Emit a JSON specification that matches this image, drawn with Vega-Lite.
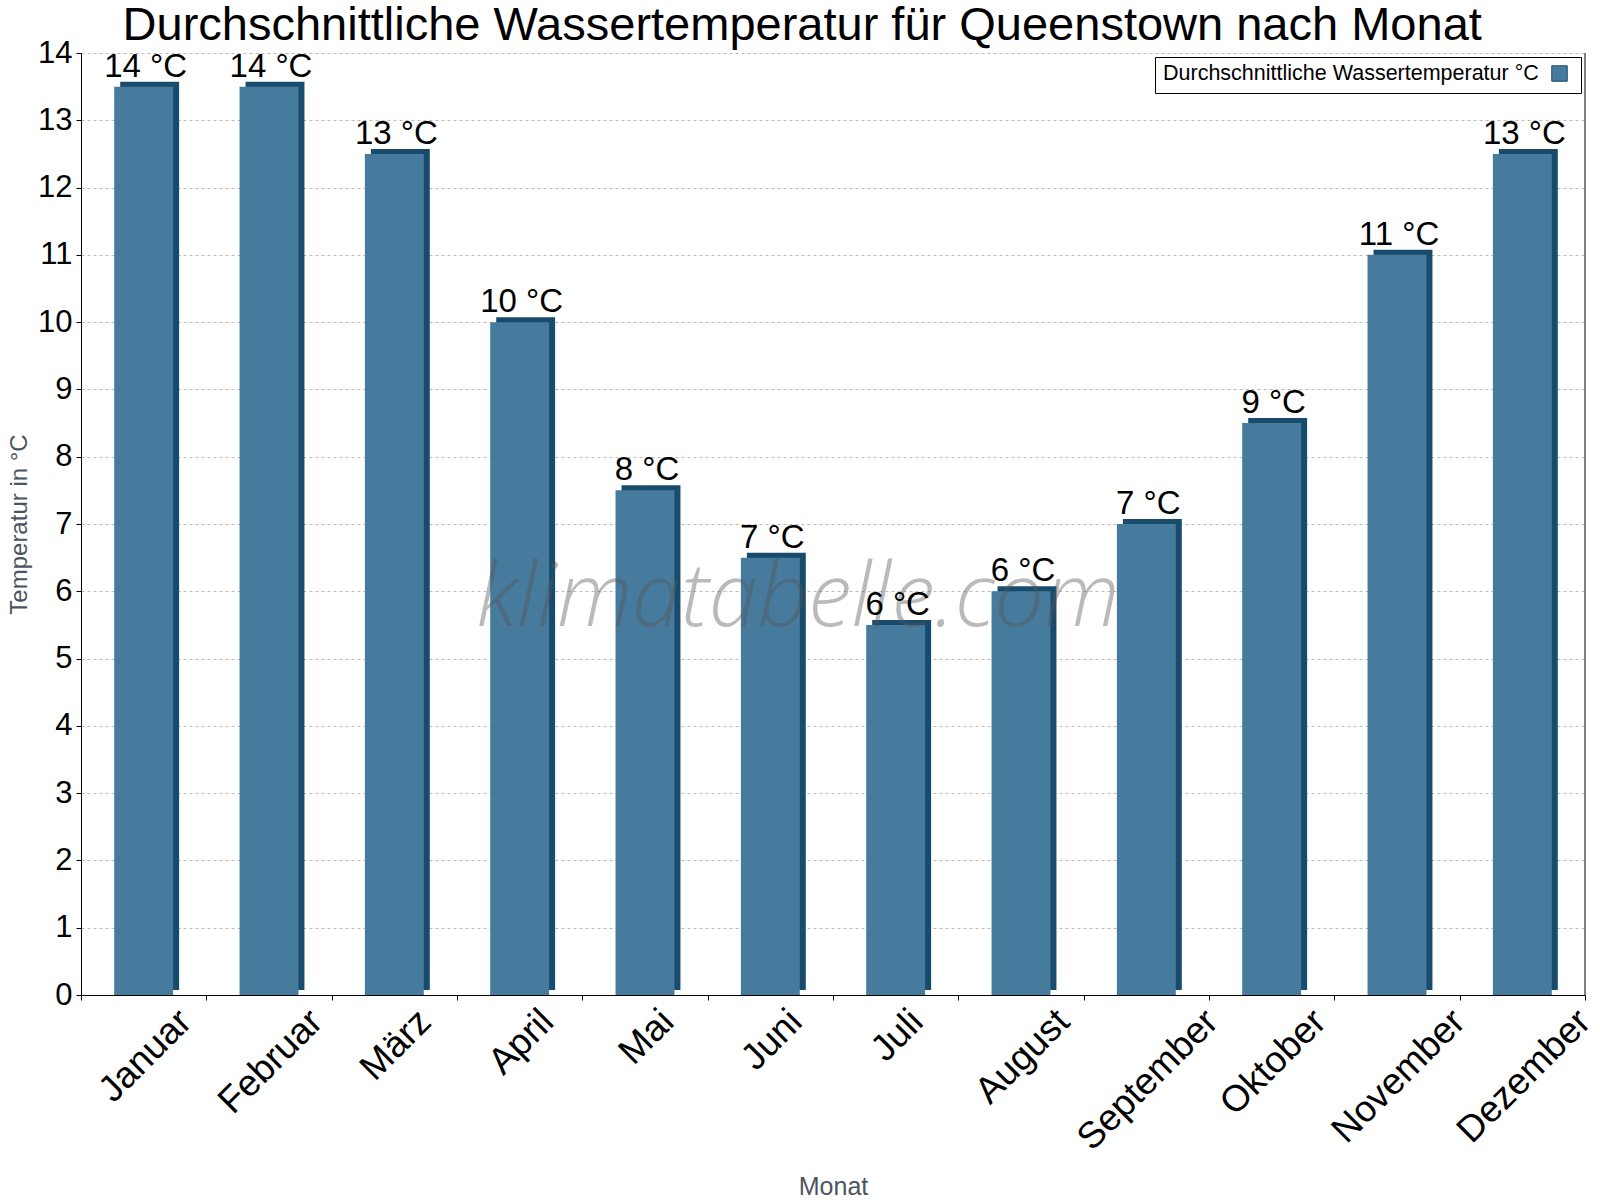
{
  "$schema": "https://vega.github.io/schema/vega-lite/v6.json",
  "description": "Durchschnittliche Wassertemperatur Queenstown, Balken mit 3D-Kante.",
  "width": 1504,
  "height": 942,
  "autosize": {"type": "none"},
  "padding": {"left": 81, "top": 53, "right": 15, "bottom": 205},
  "background": "white",
  "title": {
    "text": "Durchschnittliche Wassertemperatur für Queenstown nach Monat",
    "fontSize": 47,
    "fontWeight": "normal",
    "color": "black",
    "anchor": "middle",
    "frame": "bounds",
    "offset": -13
  },
  "config": {
    "font": "Liberation Sans",
    "view": {"stroke": null}
  },
  "datasets": {
    "monate": [
      {"Monat": "Januar", "Temperatur": 13.5, "Beschriftung": "14 °C"},
      {"Monat": "Februar", "Temperatur": 13.5, "Beschriftung": "14 °C"},
      {"Monat": "März", "Temperatur": 12.5, "Beschriftung": "13 °C"},
      {"Monat": "April", "Temperatur": 10, "Beschriftung": "10 °C"},
      {"Monat": "Mai", "Temperatur": 7.5, "Beschriftung": "8 °C"},
      {"Monat": "Juni", "Temperatur": 6.5, "Beschriftung": "7 °C"},
      {"Monat": "Juli", "Temperatur": 5.5, "Beschriftung": "6 °C"},
      {"Monat": "August", "Temperatur": 6, "Beschriftung": "6 °C"},
      {"Monat": "September", "Temperatur": 7, "Beschriftung": "7 °C"},
      {"Monat": "Oktober", "Temperatur": 8.5, "Beschriftung": "9 °C"},
      {"Monat": "November", "Temperatur": 11, "Beschriftung": "11 °C"},
      {"Monat": "Dezember", "Temperatur": 12.5, "Beschriftung": "13 °C"}
    ],
    "wasserzeichen": [
      {"text": "klimatabelle.com", "Temperatur": 5.48}
    ],
    "rahmen": [
      {"Monat": "Dezember", "Temperatur": 0, "oben": 14}
    ]
  },
  "layer": [
    {
      "data": {"name": "monate"},
      "mark": {"type": "bar", "color": "#184b6c", "xOffset": 6, "yOffset": -5, "width": {"band": 0.47}},
      "encoding": {
        "x": {
          "field": "Monat",
          "type": "nominal",
          "sort": null,
          "scale": {"paddingInner": 0, "paddingOuter": 0},
          "axis": {
            "title": "Monat",
            "titleFontSize": 25,
            "titleFontWeight": "normal",
            "titleColor": "#4a5561",
            "titlePadding": 18,
            "labelAngle": -45,
            "labelAlign": "right",
            "labelBaseline": "top",
            "labelFontSize": 37,
            "labelColor": "black",
            "labelPadding": 3,
            "labelOverlap": false,
            "labelLimit": 400,
            "labelBound": false,
            "tickBand": "extent",
            "tickSize": 5,
            "tickColor": "black",
            "domainColor": "black",
            "grid": false,
            "encoding": {
              "labels": {
                "dx": {"value": {"expr": "({'Januar':20.3,'Februar':24.4,'März':12.5,'April':10.5,'Mai':6.9,'Juni':9,'Juli':5.9,'August':20.8,'September':37.2,'Oktober':24.9,'November':34.7,'Dezember':34.7})[datum.value]"}},
                "dy": {"value": {"expr": "({'Januar':20.3,'Februar':24.4,'März':12.5,'April':10.5,'Mai':6.9,'Juni':9,'Juli':5.9,'August':20.8,'September':37.2,'Oktober':24.9,'November':34.7,'Dezember':34.7})[datum.value]"}}
              }
            }
          }
        },
        "y": {
          "field": "Temperatur",
          "type": "quantitative",
          "title": "Temperatur in °C",
          "scale": {"domain": [0, 14], "nice": false},
          "axis": {
            "title": "Temperatur in °C",
            "format": "d",
            "titleFontSize": 24,
            "titleFontWeight": "normal",
            "titleColor": "#4a5561",
            "titlePadding": 6,
            "values": [0, 1, 2, 3, 4, 5, 6, 7, 8, 9, 10, 11, 12, 13, 14],
            "labelFontSize": 31,
            "labelColor": "black",
            "labelPadding": 4,
            "tickSize": 5,
            "tickColor": "black",
            "domainColor": "black",
            "gridColor": "#bbbbbb",
            "gridDash": [3, 3]
          }
        }
      }
    },
    {
      "data": {"name": "monate"},
      "mark": {"type": "bar", "width": {"band": 0.47}},
      "encoding": {
        "x": {"field": "Monat", "type": "nominal", "sort": null},
        "y": {"field": "Temperatur", "type": "quantitative", "title": "Temperatur in °C"},
        "color": {
          "datum": "Durchschnittliche Wassertemperatur °C",
          "type": "nominal",
          "scale": {"range": ["#467b9d"]},
          "legend": {
            "title": "Durchschnittliche Wassertemperatur °C",
            "titleOrient": "left",
            "titleFontSize": 21.5,
            "titleFontWeight": "normal",
            "titleColor": "black",
            "titleLimit": 600,
            "titlePadding": 12,
            "labelExpr": "''",
            "labelOffset": 5,
            "symbolType": "square",
            "symbolSize": 240,
            "symbolStrokeColor": "#184b6c",
            "symbolStrokeWidth": 1,
            "orient": "top-right",
            "offset": 4,
            "padding": 8,
            "strokeColor": "black",
            "fillColor": "white"
          }
        }
      }
    },
    {
      "data": {"name": "rahmen"},
      "mark": {"type": "rule", "color": "black", "strokeWidth": 1},
      "encoding": {
        "x": {"datum": "Dezember", "type": "nominal", "bandPosition": 1},
        "y": {"field": "Temperatur", "type": "quantitative", "title": "Temperatur in °C"},
        "y2": {"field": "oben"}
      }
    },
    {
      "data": {"name": "wasserzeichen"},
      "mark": {
        "type": "text",
        "font": "Open Sans",
        "fontStyle": "italic",
        "fontWeight": 300,
        "fontSize": 88,
        "color": "#555555",
        "opacity": 0.4,
        "align": "center",
        "baseline": "alphabetic",
        "dx": -35
      },
      "encoding": {
        "text": {"field": "text"},
        "y": {"field": "Temperatur", "type": "quantitative", "title": "Temperatur in °C"}
      }
    },
    {
      "data": {"name": "monate"},
      "mark": {"type": "text", "fontSize": 33, "color": "black", "baseline": "alphabetic", "dy": -10, "dx": 2},
      "encoding": {
        "x": {"field": "Monat", "type": "nominal", "sort": null},
        "y": {"field": "Temperatur", "type": "quantitative", "title": "Temperatur in °C"},
        "text": {"field": "Beschriftung"}
      }
    }
  ]
}
